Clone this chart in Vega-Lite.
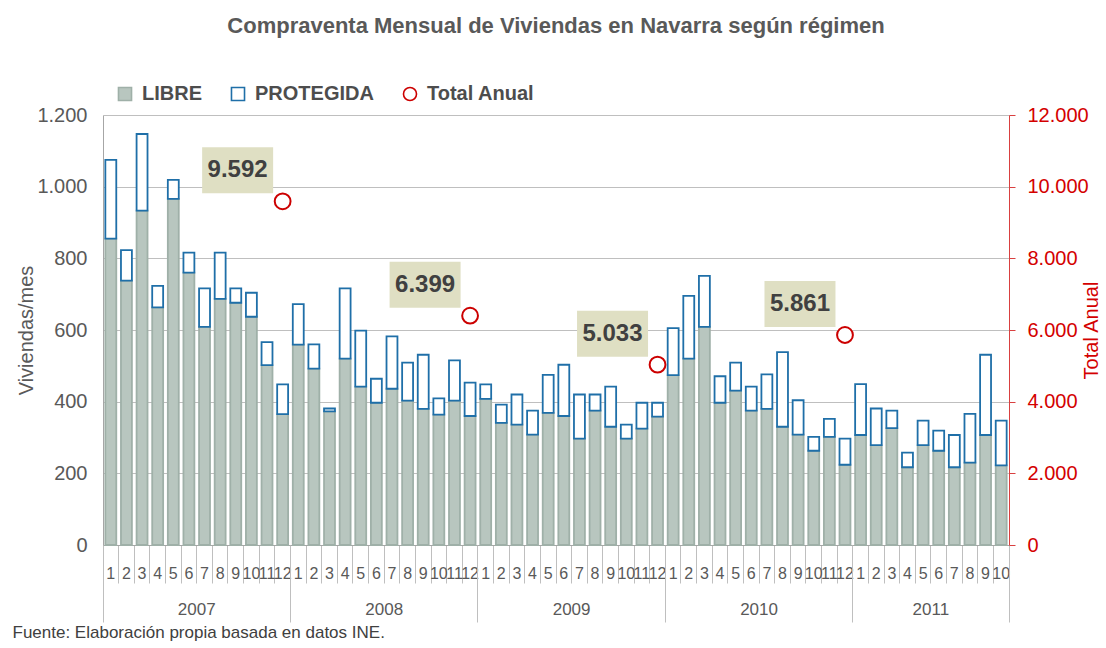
{
  "$schema": "https://vega.github.io/schema/vega-lite/v6.json",
  "autosize": {"type": "none"},
  "width": 906,
  "height": 430,
  "padding": {"left": 103, "top": 115, "right": 97, "bottom": 103},
  "background": "#ffffff",
  "title": {
    "text": "Compraventa Mensual de Viviendas en Navarra según régimen",
    "fontSize": 22,
    "fontWeight": "bold",
    "color": "#595959",
    "anchor": "middle",
    "frame": "group",
    "offset": 46
  },
  "config": {
    "font": "Liberation Sans",
    "view": {"stroke": null},
    "locale": {"number": {"decimal": ",", "thousands": ".", "grouping": [3], "currency": ["", " €"]}},
    "legend": {
      "orient": "none",
      "legendX": 12,
      "legendY": -31,
      "direction": "horizontal",
      "title": null,
      "labelFontSize": 20,
      "labelFontWeight": "bold",
      "labelColor": "#4d4d4d",
      "labelFont": "Liberation Sans",
      "symbolSize": 170,
      "symbolStrokeWidth": 1.6,
      "symbolOpacity": 1,
      "columnPadding": 26,
      "labelOffset": 7,
      "padding": 0
    }
  },
  "datasets": {
    "totales": [
      {"k": "2007-12", "total": 9592, "serie": "Total Anual"},
      {"k": "2008-12", "total": 6399, "serie": "Total Anual"},
      {"k": "2009-12", "total": 5033, "serie": "Total Anual"},
      {"k": "2010-12", "total": 5861, "serie": "Total Anual"}
    ]
  },
  "layer": [
    {
      "data": {"values": [
        {"k": "2007-01", "LIBRE": 855, "PROTEGIDA": 220},
        {"k": "2007-02", "LIBRE": 738, "PROTEGIDA": 85},
        {"k": "2007-03", "LIBRE": 933, "PROTEGIDA": 214},
        {"k": "2007-04", "LIBRE": 663, "PROTEGIDA": 60},
        {"k": "2007-05", "LIBRE": 966, "PROTEGIDA": 53},
        {"k": "2007-06", "LIBRE": 760, "PROTEGIDA": 56},
        {"k": "2007-07", "LIBRE": 609, "PROTEGIDA": 107},
        {"k": "2007-08", "LIBRE": 687, "PROTEGIDA": 129},
        {"k": "2007-09", "LIBRE": 676, "PROTEGIDA": 40},
        {"k": "2007-10", "LIBRE": 637, "PROTEGIDA": 67},
        {"k": "2007-11", "LIBRE": 502, "PROTEGIDA": 64},
        {"k": "2007-12", "LIBRE": 365, "PROTEGIDA": 83},
        {"k": "2008-01", "LIBRE": 559, "PROTEGIDA": 113},
        {"k": "2008-02", "LIBRE": 492, "PROTEGIDA": 68},
        {"k": "2008-03", "LIBRE": 373, "PROTEGIDA": 8},
        {"k": "2008-04", "LIBRE": 520, "PROTEGIDA": 196},
        {"k": "2008-05", "LIBRE": 442, "PROTEGIDA": 156},
        {"k": "2008-06", "LIBRE": 397, "PROTEGIDA": 67},
        {"k": "2008-07", "LIBRE": 436, "PROTEGIDA": 146},
        {"k": "2008-08", "LIBRE": 403, "PROTEGIDA": 106},
        {"k": "2008-09", "LIBRE": 380, "PROTEGIDA": 151},
        {"k": "2008-10", "LIBRE": 364, "PROTEGIDA": 45},
        {"k": "2008-11", "LIBRE": 403, "PROTEGIDA": 112},
        {"k": "2008-12", "LIBRE": 360, "PROTEGIDA": 93},
        {"k": "2009-01", "LIBRE": 408, "PROTEGIDA": 40},
        {"k": "2009-02", "LIBRE": 341, "PROTEGIDA": 51},
        {"k": "2009-03", "LIBRE": 336, "PROTEGIDA": 84},
        {"k": "2009-04", "LIBRE": 308, "PROTEGIDA": 67},
        {"k": "2009-05", "LIBRE": 369, "PROTEGIDA": 106},
        {"k": "2009-06", "LIBRE": 360, "PROTEGIDA": 143},
        {"k": "2009-07", "LIBRE": 297, "PROTEGIDA": 123},
        {"k": "2009-08", "LIBRE": 375, "PROTEGIDA": 45},
        {"k": "2009-09", "LIBRE": 330, "PROTEGIDA": 112},
        {"k": "2009-10", "LIBRE": 297, "PROTEGIDA": 39},
        {"k": "2009-11", "LIBRE": 325, "PROTEGIDA": 72},
        {"k": "2009-12", "LIBRE": 358, "PROTEGIDA": 39},
        {"k": "2010-01", "LIBRE": 474, "PROTEGIDA": 131},
        {"k": "2010-02", "LIBRE": 520, "PROTEGIDA": 175},
        {"k": "2010-03", "LIBRE": 609, "PROTEGIDA": 142},
        {"k": "2010-04", "LIBRE": 397, "PROTEGIDA": 74},
        {"k": "2010-05", "LIBRE": 431, "PROTEGIDA": 78},
        {"k": "2010-06", "LIBRE": 375, "PROTEGIDA": 67},
        {"k": "2010-07", "LIBRE": 380, "PROTEGIDA": 96},
        {"k": "2010-08", "LIBRE": 330, "PROTEGIDA": 208},
        {"k": "2010-09", "LIBRE": 308, "PROTEGIDA": 96},
        {"k": "2010-10", "LIBRE": 263, "PROTEGIDA": 39},
        {"k": "2010-11", "LIBRE": 302, "PROTEGIDA": 50},
        {"k": "2010-12", "LIBRE": 224, "PROTEGIDA": 73},
        {"k": "2011-01", "LIBRE": 307, "PROTEGIDA": 142},
        {"k": "2011-02", "LIBRE": 279, "PROTEGIDA": 102},
        {"k": "2011-03", "LIBRE": 326, "PROTEGIDA": 49},
        {"k": "2011-04", "LIBRE": 217, "PROTEGIDA": 41},
        {"k": "2011-05", "LIBRE": 279, "PROTEGIDA": 68},
        {"k": "2011-06", "LIBRE": 263, "PROTEGIDA": 56},
        {"k": "2011-07", "LIBRE": 217, "PROTEGIDA": 90},
        {"k": "2011-08", "LIBRE": 230, "PROTEGIDA": 136},
        {"k": "2011-09", "LIBRE": 307, "PROTEGIDA": 224},
        {"k": "2011-10", "LIBRE": 222, "PROTEGIDA": 125}
      ]},
      "transform": [{"fold": ["LIBRE", "PROTEGIDA"], "as": ["serie", "n"]}],
      "mark": {"type": "bar", "width": {"band": 0.7}, "strokeWidth": 1.8, "opacity": 1},
      "encoding": {
        "x": {
          "field": "k",
          "type": "ordinal",
          "scale": {"type": "band", "paddingInner": 0, "paddingOuter": 0},
          "axis": {
            "orient": "bottom",
            "title": null,
            "labelExpr": "isString(datum.value) ? parseInt(substring(datum.value, 5, 7)) : ''",
            "labelAngle": 0,
            "labelFont": "Liberation Sans Narrow, Liberation Sans",
            "labelFontSize": 16,
            "labelColor": "#595959",
            "labelOverlap": false,
            "labelBound": false,
            "labelPadding": -18,
            "bandPosition": 0,
            "tickSize": 38,
            "tickColor": "#bfbfbf",
            "domainColor": "#a6a6a6",
            "grid": false
          }
        },
        "y": {
          "field": "n",
          "type": "quantitative",
          "stack": "zero",
          "scale": {"domain": [0, 1200]},
          "axis": {
            "orient": "left",
            "title": "Viviendas/mes",
            "titleFontSize": 20,
            "titleFontWeight": "normal",
            "titleColor": "#595959",
            "titlePadding": 0,
            "values": [0, 200, 400, 600, 800, 1000, 1200],
            "format": ",d",
            "labelFontSize": 20,
            "labelColor": "#595959",
            "labelPadding": 16,
            "ticks": false,
            "domainColor": "#a6a6a6",
            "grid": true,
            "gridColor": "#bfbfbf"
          }
        },
        "fill": {
          "field": "serie",
          "type": "nominal",
          "scale": {"domain": ["LIBRE", "PROTEGIDA", "Total Anual"], "range": ["#b8c6bf", "#ffffff", "#ffffff"]},
          "legend": {"title": null}
        },
        "stroke": {
          "field": "serie",
          "type": "nominal",
          "scale": {"domain": ["LIBRE", "PROTEGIDA", "Total Anual"], "range": ["#9fb0a8", "#1f6fa8", "#cc0000"]},
          "legend": {"title": null}
        },
        "order": {"field": "serie", "sort": "ascending"}
      }
    },
    {
      "data": {"name": "totales"},
      "mark": {"type": "point", "shape": "M-1.61,-1.08H-0.19V-0.16H-1.61Z", "size": 10000, "filled": true, "fill": "#dfdfc3", "strokeWidth": 0, "opacity": 1},
      "encoding": {
        "x": {"field": "k", "type": "ordinal", "axis": {"orient": "bottom", "title": null, "values": ["2007-01"], "bandPosition": 0, "labels": false, "domain": false, "tickSize": 77, "tickColor": "#bfbfbf", "grid": false}},
        "y": {"field": "total", "type": "quantitative", "scale": {"domain": [0, 12000]}, "axis": null}
      }
    },
    {
      "data": {"name": "totales"},
      "mark": {"type": "text", "dx": -45, "dy": -31, "fontSize": 24, "fontWeight": "bold", "color": "#404040", "align": "center", "baseline": "middle"},
      "encoding": {
        "x": {"field": "k", "type": "ordinal", "axis": {
          "orient": "bottom",
          "title": "Fuente: Elaboración propia basada en datos INE.",
          "titleFontSize": 17,
          "titleFontWeight": "normal",
          "titleColor": "#404040",
          "titleAnchor": "start",
          "titleAlign": "left",
          "titleBaseline": "middle",
          "titleX": -91,
          "titleY": 87,
          "values": ["2007-06", "2008-06", "2009-06", "2010-06", "2011-05"],
          "labelExpr": "substring(datum.value, 0, 4)",
          "labelOffset": 7.81,
          "labelAngle": 0,
          "labelPadding": 56,
          "labelFont": "Liberation Sans Narrow, Liberation Sans",
          "labelFontSize": 17,
          "labelColor": "#595959",
          "labelOverlap": false,
          "ticks": false,
          "domain": false,
          "grid": false
        }},
        "y": {"field": "total", "type": "quantitative", "scale": {"domain": [0, 12000]}, "axis": null},
        "text": {"field": "total", "type": "quantitative", "format": ",d"}
      }
    },
    {
      "data": {"name": "totales"},
      "mark": {"type": "point", "shape": "circle", "size": 250, "strokeWidth": 2, "fill": "#ffffff", "opacity": 1},
      "encoding": {
        "x": {"field": "k", "type": "ordinal", "axis": {"orient": "bottom", "title": null, "values": ["2007-12", "2008-12", "2009-12", "2010-12", "2011-10"], "bandPosition": 1, "labels": false, "domain": false, "tickSize": 77, "tickColor": "#bfbfbf", "grid": false}},
        "y": {
          "field": "total",
          "type": "quantitative",
          "scale": {"domain": [0, 12000]},
          "axis": {
            "orient": "right",
            "title": "Total Anual",
            "titleAngle": 270,
            "titleAlign": "center",
            "titleBaseline": "middle",
            "titleAnchor": "middle",
            "titleX": 82,
            "titleY": 215,
            "titleFontSize": 20,
            "titleFontWeight": "normal",
            "titleColor": "#d40000",
            "values": [0, 2000, 4000, 6000, 8000, 10000, 12000],
            "format": ",d",
            "labelFontSize": 20,
            "labelColor": "#d40000",
            "labelPadding": 12,
            "tickSize": 6,
            "tickColor": "#d94040",
            "domainColor": "#d94040",
            "grid": false
          }
        },
        "stroke": {
          "field": "serie",
          "type": "nominal",
          "scale": {"domain": ["LIBRE", "PROTEGIDA", "Total Anual"], "range": ["#9fb0a8", "#1f6fa8", "#cc0000"]},
          "legend": {"title": null}
        },
        "shape": {
          "field": "serie",
          "type": "nominal",
          "scale": {"domain": ["LIBRE", "PROTEGIDA", "Total Anual"], "range": ["square", "square", "circle"]},
          "legend": {"title": null}
        }
      }
    }
  ],
  "resolve": {"scale": {"y": "independent"}, "axis": {"x": "independent"}}
}
